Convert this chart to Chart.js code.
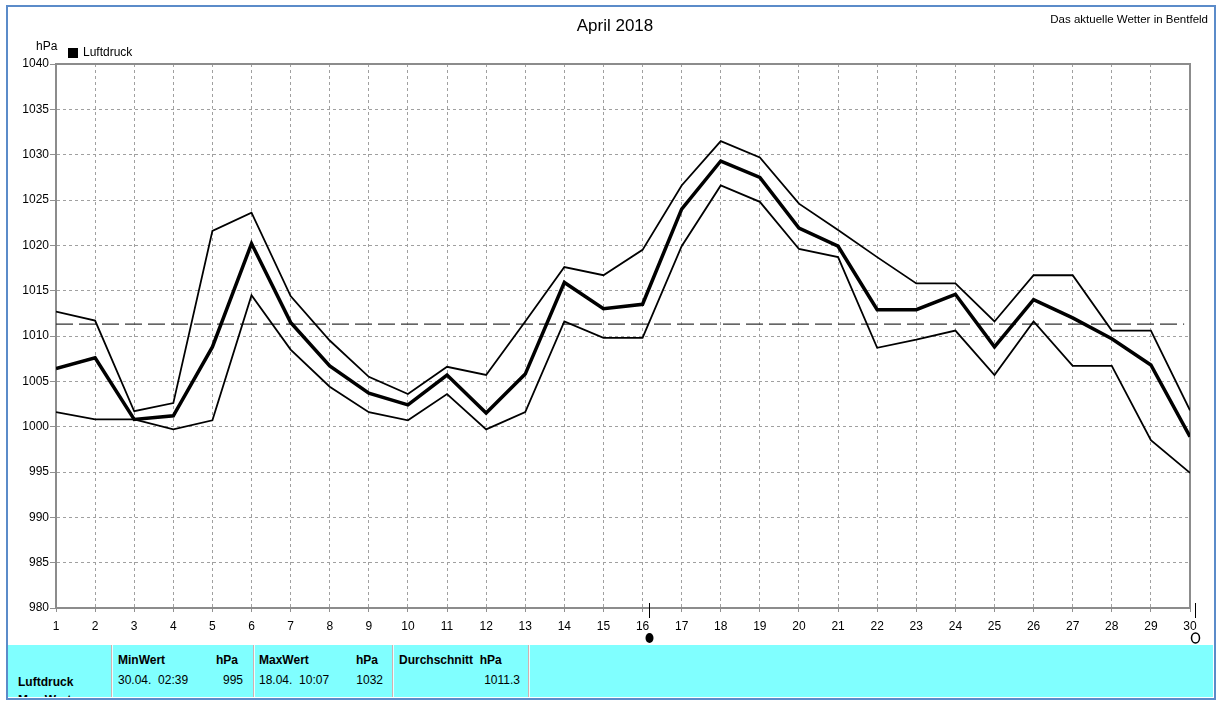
<!DOCTYPE html>
<html>
<head>
<meta charset="utf-8">
<script src="https://cdn.jsdelivr.net/npm/chart.js@4/dist/chart.umd.min.js"></script>
<style>
  body { margin: 0; background: #fff; font-family: "Liberation Sans", Arial, sans-serif; }
  #wrap { position: relative; width: 1218px; height: 702px; overflow: hidden; }
  #chart { position: absolute; left: 0; top: 0; }
  #frame { position: absolute; left: 6px; top: 5px; width: 1206px; height: 691px; border: 2px solid #5b8bc9; box-sizing: content-box; }
  .txt { position: absolute; white-space: nowrap; color: #000; }
  #stats { position: absolute; left: 8px; top: 645px; width: 1205px; height: 52px; background: #80ffff; overflow: hidden; font-size: 12px; }
  .sep { position: absolute; top: 0; width: 1px; height: 52px; background: #d0b0b0; border-right: 1px solid #e8ffff; }
  .b { font-weight: bold; }
</style>
</head>
<body>
<div id="wrap">
  <canvas id="chart" width="1218" height="645"></canvas>
  <div class="txt" style="left:0; width:1230px; text-align:center; top:16px; font-size:17px;">April 2018</div>
  <div class="txt" style="right:10px; top:13px; font-size:11.5px;">Das aktuelle Wetter in Bentfeld</div>
  <div class="txt" style="left:36px; top:39px; font-size:12px;">hPa</div>
  <div style="position:absolute; left:68px; top:48px; width:10px; height:10px; background:#000;"></div>
  <div class="txt" style="left:83px; top:45px; font-size:12px;">Luftdruck</div>
  <div id="stats">
    <div class="sep" style="left:103px;"></div>
    <div class="sep" style="left:245px;"></div>
    <div class="sep" style="left:384px;"></div>
    <div class="sep" style="left:520px;"></div>
    <div class="txt b" style="left:110px; top:8px;">MinWert</div>
    <div class="txt b" style="left:208px; top:8px;">hPa</div>
    <div class="txt b" style="left:251px; top:8px;">MaxWert</div>
    <div class="txt b" style="left:348px; top:8px;">hPa</div>
    <div class="txt b" style="left:391px; top:8px;">Durchschnitt&nbsp;&nbsp;hPa</div>
    <div class="txt b" style="left:10px; top:30px;">Luftdruck</div>
    <div class="txt b" style="left:10px; top:48px;">Max Wert</div>
    <div class="txt" style="left:110px; top:28px;">30.04.&nbsp;&nbsp;02:39</div>
    <div class="txt" style="right:970px; top:28px;">995</div>
    <div class="txt" style="left:251px; top:28px;">18.04.&nbsp;&nbsp;10:07</div>
    <div class="txt" style="right:830px; top:28px;">1032</div>
    <div class="txt" style="right:693px; top:28px;">1011.3</div>
  </div>
  <div id="frame"></div>
</div>
<script>
// Luftdruck April 2018 (hPa), Tageswerte
var days = [];
for (var d = 1; d <= 30; d++) days.push(d);

var maxValues = [1012.7, 1011.7, 1001.7, 1002.6, 1021.6, 1023.6, 1014.4, 1009.5, 1005.5, 1003.6,
                 1006.6, 1005.7, 1011.6, 1017.6, 1016.7, 1019.5, 1026.6, 1031.5, 1029.7, 1024.6,
                 1021.7, 1018.7, 1015.8, 1015.8, 1011.6, 1016.7, 1016.7, 1010.6, 1010.6, 1001.8];
var meanValues = [1006.4, 1007.6, 1000.8, 1001.2, 1008.8, 1020.2, 1011.5, 1006.7, 1003.7, 1002.4,
                  1005.7, 1001.5, 1005.8, 1015.9, 1013.0, 1013.5, 1024.0, 1029.3, 1027.5, 1021.9,
                  1019.9, 1012.9, 1012.9, 1014.6, 1008.8, 1014.0, 1012.0, 1009.7, 1006.8, 998.9];
var minValues = [1001.6, 1000.8, 1000.8, 999.7, 1000.7, 1014.5, 1008.5, 1004.4, 1001.6, 1000.7,
                 1003.6, 999.7, 1001.6, 1011.6, 1009.8, 1009.8, 1019.9, 1026.6, 1024.8, 1019.6,
                 1018.7, 1008.7, 1009.6, 1010.6, 1005.7, 1011.6, 1006.7, 1006.7, 998.5, 994.9];
var avgValue = 1011.3;

// Mondphasen: Neumond 16.04. 03:57, Vollmond 30.04. 02:58
var moonDays = [16.16, 30.12];
var moonFilled = [true, false];

function toPoints(values) {
    return values.map(function (v, i) { return { x: days[i], y: v }; });
}

var moonPlugin = {
    id: 'moon',
    afterDraw: function (chart) {
        var ctx = chart.ctx;
        var x = chart.scales.x;
        var bottom = chart.chartArea.bottom;
        ctx.save();
        moonDays.forEach(function (md, i) {
            var px = Math.round(x.getPixelForValue(md)) + 0.5;
            ctx.strokeStyle = '#000';
            ctx.lineWidth = 1;
            ctx.beginPath();
            ctx.moveTo(px, bottom - 5);
            ctx.lineTo(px, bottom + 10);
            ctx.stroke();
            ctx.beginPath();
            ctx.ellipse(px, 638, 4, 5, 0, 0, Math.PI * 2);
            if (moonFilled[i]) {
                ctx.fillStyle = '#000';
                ctx.fill();
            } else {
                ctx.lineWidth = 1.5;
                ctx.stroke();
            }
        });
        ctx.restore();
    }
};

var ctx = document.getElementById('chart').getContext('2d');
new Chart(ctx, {
    type: 'line',
    data: {
        datasets: [
            {
                label: 'Max',
                data: toPoints(maxValues),
                borderColor: '#000',
                borderWidth: 1.8,
                pointRadius: 0,
                tension: 0
            },
            {
                label: 'Luftdruck',
                data: toPoints(meanValues),
                borderColor: '#000',
                borderWidth: 3.5,
                pointRadius: 0,
                tension: 0
            },
            {
                label: 'Min',
                data: toPoints(minValues),
                borderColor: '#000',
                borderWidth: 1.8,
                pointRadius: 0,
                tension: 0
            },
            {
                label: 'Durchschnitt',
                data: [{ x: 1, y: avgValue }, { x: 29.85, y: avgValue }],
                borderColor: '#333',
                borderWidth: 1.3,
                borderDash: [17, 6],
                pointRadius: 0
            }
        ]
    },
    options: {
        responsive: false,
        animation: false,
        layout: { padding: { left: 0, top: 64, right: 28, bottom: 0 } },
        plugins: {
            legend: { display: false },
            title: { display: false },
            tooltip: { enabled: false }
        },
        scales: {
            x: {
                type: 'linear',
                min: 1,
                max: 30,
                afterFit: function (scale) { scale.height = 37; },
                ticks: {
                    stepSize: 1,
                    autoSkip: false,
                    maxRotation: 0,
                    color: '#000',
                    padding: 7,
                    font: { family: 'Liberation Sans', size: 12 },
                    callback: function (v) { return String(v); }
                },
                grid: {
                    color: '#a0a0a0',
                    tickBorderDash: [],
                    tickColor: '#909090',
                    tickLength: 4
                },
                border: { display: true, color: '#8c8c8c', width: 2, dash: [3, 3] }
            },
            y: {
                min: 980,
                max: 1040,
                afterFit: function (scale) { scale.width = 56; },
                ticks: {
                    stepSize: 5,
                    color: '#000',
                    padding: 1,
                    font: { family: 'Liberation Sans', size: 12 },
                    callback: function (v) { return String(v); }
                },
                grid: {
                    color: '#a0a0a0',
                    tickBorderDash: [],
                    tickColor: '#909090',
                    tickLength: 6
                },
                border: { display: true, color: '#8c8c8c', width: 2, dash: [3, 3] }
            },
            yRight: {
                position: 'right',
                min: 980,
                max: 1040,
                afterFit: function (scale) { scale.width = 0; },
                ticks: { display: false },
                grid: { display: false },
                border: { display: true, color: '#8c8c8c', width: 2 }
            },
            xTop: {
                type: 'linear',
                position: 'top',
                min: 1,
                max: 30,
                afterFit: function (scale) { scale.height = 0; },
                ticks: { display: false },
                grid: { display: false },
                border: { display: true, color: '#8c8c8c', width: 2 }
            }
        }
    },
    plugins: [moonPlugin]
});
</script>
</body>
</html>
